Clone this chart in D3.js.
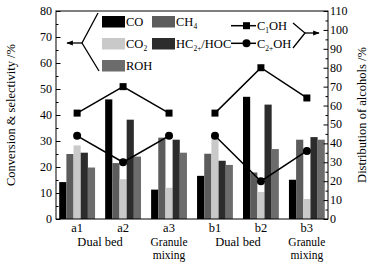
<!DOCTYPE html>
<html lang="en">
<head>
<meta charset="utf-8">
<title>conversion and alcohols</title>
<script src="https://cdn.jsdelivr.net/npm/d3@7"></script>
<style>
  body { margin: 0; background: #fff; }
  text { font-family: "Liberation Serif", "Times New Roman", serif; fill: #000; }
</style>
</head>
<body>
<svg width="373" height="264"></svg>
<script>
// data
const samples = ["a1", "a2", "a3", "b1", "b2", "b3"];
const seriesNames = ["CO", "CH4", "CO2", "HC", "ROH"];
const coVals  = [14.2, 46.0, 11.3, 16.6, 47.0, 15.1];
const ch4Vals = [25.0, 21.5, 31.3, 25.1, 17.9, 30.5];
const co2Vals = [28.3, 15.3, 12.0, 31.8, 10.4, 7.7];
const hcVals  = [25.5, 38.2, 30.5, 22.4, 44.0, 31.5];
const rohVals = [19.8, 24.0, 25.5, 20.8, 26.9, 30.5];
const c1ohVals = [56, 70, 56, 56, 80, 64];
const c2ohVals = [44, 30, 44, 44, 20, 36];
const leftTicks = [0, 10, 20, 30, 40, 50, 60, 70, 80];
const rightTicks = [0, 10, 20, 30, 40, 50, 60, 70, 80, 90, 100, 110];

const colors = {CO: "#000000", CH4: "#5c5c5c", CO2: "#c9c9c9", HC: "#2c2c2c", ROH: "#6c6c6c"};
const valsBySeries = {CO: coVals, CH4: ch4Vals, CO2: co2Vals, HC: hcVals, ROH: rohVals};

const svg = d3.select("svg");
const pL = 56, pR = 328, pT = 11, pB = 219;

var x = d3.scaleBand().domain(samples).range([pL, pR])
          .paddingInner(0.22).paddingOuter(0.07);
var xs = d3.scaleBand().domain(seriesNames).range([0, x.bandwidth()]);
var y = d3.scaleLinear().domain([0, 80]).range([pB, pT]);
var y2 = d3.scaleLinear().domain([0, 110]).range([pB, pT]);

// bars
var groups = svg.append("g").selectAll("g")
    .data(samples).enter().append("g")
    .attr("transform", function (d) { return "translate(" + x(d) + ",0)"; });
groups.selectAll("rect")
    .data(function (d, i) { return seriesNames.map(function (s) { return {s: s, v: valsBySeries[s][i]}; }); })
    .enter().append("rect")
    .attr("x", function (d) { return xs(d.s); })
    .attr("width", xs.bandwidth())
    .attr("y", function (d) { return y(d.v); })
    .attr("height", function (d) { return pB - y(d.v); })
    .attr("fill", function (d) { return colors[d.s]; });

// frame
svg.append("rect").attr("x", pL).attr("y", pT)
   .attr("width", pR - pL).attr("height", pB - pT)
   .attr("fill", "none").attr("stroke", "#000").attr("stroke-width", 1);

// left axis, ticks inward
var gl = svg.append("g").attr("transform", "translate(" + pL + ",0)");
gl.append("g").call(d3.axisRight(y).tickValues(d3.range(5, 80, 10)).tickSize(2.5).tickFormat(""));
gl.append("g").call(d3.axisRight(y).tickValues(leftTicks).tickSize(4.5).tickFormat(""));
gl.selectAll(".domain").remove();
svg.append("g").selectAll("text").data(leftTicks).enter().append("text")
   .attr("x", pL - 4).attr("y", function (d) { return y(d) + 4; })
   .attr("text-anchor", "end").attr("font-size", 12).text(function (d) { return d; });

// right axis, ticks inward
var gr = svg.append("g").attr("transform", "translate(" + pR + ",0)");
gr.append("g").call(d3.axisLeft(y2).tickValues(d3.range(5, 110, 10)).tickSize(2.5).tickFormat(""));
gr.append("g").call(d3.axisLeft(y2).tickValues(rightTicks).tickSize(4.5).tickFormat(""));
gr.selectAll(".domain").remove();
svg.append("g").selectAll("text").data(rightTicks).enter().append("text")
   .attr("x", pR + 2).attr("y", function (d) { return y2(d) + 4; })
   .attr("text-anchor", "start").attr("font-size", 12).text(function (d) { return d; });

// category labels
svg.append("g").selectAll("text").data(samples).enter().append("text")
   .attr("x", function (d) { return x(d) + x.bandwidth() / 2; })
   .attr("y", 232).attr("text-anchor", "middle").attr("font-size", 12.5)
   .text(function (d) { return d; });

function mid(a, b) { return (x(a) + x(b) + x.bandwidth()) / 2; }
[["a1", "a2", "a3"], ["b1", "b2", "b3"]].forEach(function (g) {
  svg.append("text").attr("x", mid(g[0], g[1])).attr("y", 246)
     .attr("text-anchor", "middle").attr("font-size", 12.5).text("Dual bed");
  var cx = x(g[2]) + x.bandwidth() / 2;
  svg.append("text").attr("x", cx).attr("y", 245.5)
     .attr("text-anchor", "middle").attr("font-size", 11.5).text("Granule");
  svg.append("text").attr("x", cx).attr("y", 258.5)
     .attr("text-anchor", "middle").attr("font-size", 11.5).text("mixing");
});

// axis titles
svg.append("text").attr("transform", "translate(15," + ((pT + pB) / 2) + ") rotate(-90)")
   .attr("text-anchor", "middle").attr("font-size", 12.5).text("Conversion & selectivity /%");
svg.append("text").attr("transform", "translate(366," + ((pT + pB) / 2) + ") rotate(-90)")
   .attr("text-anchor", "middle").attr("font-size", 12.5).text("Distribution of alcohols /%");

// alcohol lines, one polyline per bed set
var line = d3.line().x(function (d) { return x(d.k) + x.bandwidth() / 2; })
                    .y(function (d) { return y2(d.v); });
function pts(vals, from, to) {
  return samples.slice(from, to).map(function (k, i) { return {k: k, v: vals[from + i]}; });
}
[c1ohVals, c2ohVals].forEach(function (vals, si) {
  [[0, 3], [3, 6]].forEach(function (r) {
    var p = pts(vals, r[0], r[1]);
    svg.append("path").datum(p).attr("d", line)
       .attr("fill", "none").attr("stroke", "#000").attr("stroke-width", 1.5);
    if (si === 0) {
      svg.append("g").selectAll("rect").data(p).enter().append("rect")
         .attr("x", function (d) { return x(d.k) + x.bandwidth() / 2 - 3.5; })
         .attr("y", function (d) { return y2(d.v) - 3.5; })
         .attr("width", 7).attr("height", 7).attr("fill", "#000");
    } else {
      svg.append("g").selectAll("circle").data(p).enter().append("circle")
         .attr("cx", function (d) { return x(d.k) + x.bandwidth() / 2; })
         .attr("cy", function (d) { return y2(d.v); })
         .attr("r", 4).attr("fill", "#000");
    }
  });
});

// left legend with bracket
svg.append("defs").append("marker").attr("id", "arr").attr("viewBox", "0 0 10 10")
   .attr("refX", 9).attr("refY", 5).attr("markerWidth", 5).attr("markerHeight", 5)
   .attr("orient", "auto").append("path").attr("d", "M0,1 L10,5 L0,9 z").attr("fill", "#000");
svg.append("path").attr("d", "M98,13 L82,43 L99,71").attr("fill", "none")
   .attr("stroke", "#000").attr("stroke-width", 1.3);
svg.append("line").attr("x1", 82).attr("y1", 43).attr("x2", 67).attr("y2", 43)
   .attr("stroke", "#000").attr("stroke-width", 1.3).attr("marker-end", "url(#arr)");

const legendItems = [
  {s: "CO", col: 0, row: 0, parts: [["CO", false]]},
  {s: "CH4", col: 1, row: 0, parts: [["CH", false], ["4", true]]},
  {s: "CO2", col: 0, row: 1, parts: [["CO", false], ["2", true]]},
  {s: "HC", col: 1, row: 1, parts: [["HC", false], ["2+", true], ["/HOC", false]]},
  {s: "ROH", col: 0, row: 2, parts: [["ROH", false]]}
];
legendItems.forEach(function (it) {
  var lx = 102 + it.col * 50, ly = 16 + it.row * 22;
  svg.append("rect").attr("x", lx).attr("y", ly).attr("width", 23).attr("height", 11.5)
     .attr("fill", colors[it.s]);
  var t = svg.append("text").attr("x", lx + 24).attr("y", ly + 10).attr("font-size", 12.5);
  it.parts.forEach(function (p, i) {
    if (p[1]) t.append("tspan").attr("font-size", 7.5).attr("dy", 3).text(p[0]);
    else t.append("tspan").attr("dy", i ? -3 : 0).text(p[0]);
  });
});

// right legend
[[25.7, "sq", [["C", false], ["1", true], ["OH", false]]],
 [43.3, "ci", [["C", false], ["2+", true], ["OH", false]]]].forEach(function (r) {
  svg.append("line").attr("x1", 231).attr("x2", 256).attr("y1", r[0]).attr("y2", r[0])
     .attr("stroke", "#000").attr("stroke-width", 1.5);
  if (r[1] === "sq") svg.append("rect").attr("x", 243).attr("y", r[0] - 3.5)
     .attr("width", 7).attr("height", 7).attr("fill", "#000");
  else svg.append("circle").attr("cx", 246.5).attr("cy", r[0]).attr("r", 4).attr("fill", "#000");
  var t = svg.append("text").attr("x", 257).attr("y", r[0] + 4.5).attr("font-size", 12.5);
  r[2].forEach(function (p, i) {
    if (p[1]) t.append("tspan").attr("font-size", 7.5).attr("dy", 3).text(p[0]);
    else t.append("tspan").attr("dy", i ? -3 : 0).text(p[0]);
  });
});
svg.append("path").attr("d", "M293,23 L305,33 L293,48").attr("fill", "none")
   .attr("stroke", "#000").attr("stroke-width", 1.3);
svg.append("line").attr("x1", 305).attr("y1", 33).attr("x2", 319).attr("y2", 33)
   .attr("stroke", "#000").attr("stroke-width", 1.3).attr("marker-end", "url(#arr)");
</script>
</body>
</html>
